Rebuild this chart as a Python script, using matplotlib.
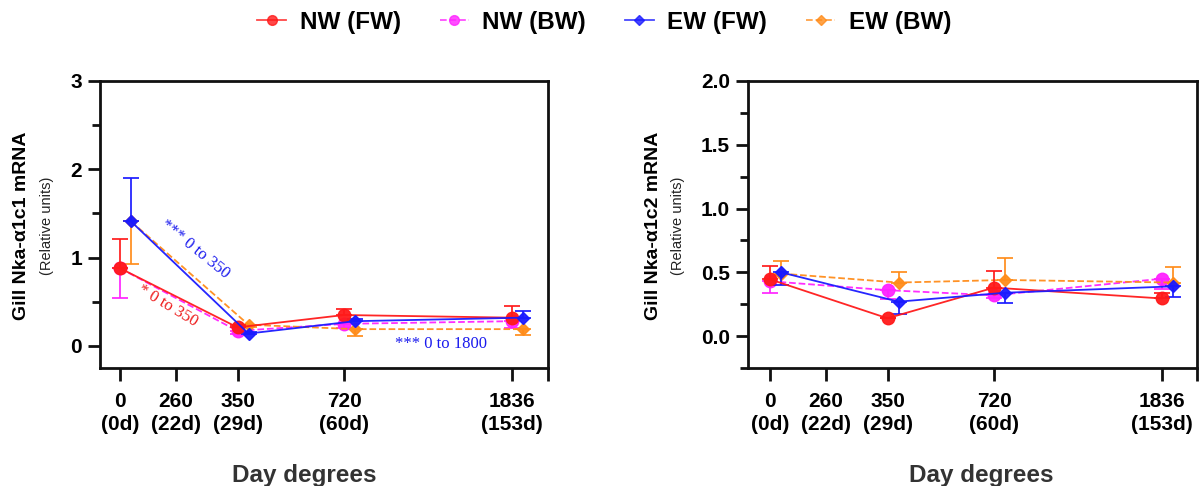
import matplotlib
matplotlib.use("Agg")
import matplotlib.pyplot as plt
from matplotlib.lines import Line2D
from matplotlib.ticker import MultipleLocator

plt.rcParams['font.family'] = ['Liberation Sans', 'DejaVu Sans']

# ---- data ----
tick_values = [0, 260, 350, 720, 1836]
tick_labels = ["0\n(0d)", "260\n(22d)", "350\n(29d)", "720\n(60d)", "1836\n(153d)"]
sample_days = [0, 350, 720, 1836]
series_names = ["NW (FW)", "NW (BW)", "EW (FW)", "EW (BW)"]

# Panel 1: Nka-a1c1
c1_nw_fw = [0.88, 0.21, 0.35, 0.32]
c1_nw_bw = [0.88, 0.17, 0.25, 0.28]
c1_ew_fw = [1.41, 0.14, 0.28, 0.32]
c1_ew_bw = [1.41, 0.24, 0.19, 0.19]
c1_nw_fw_err_hi = [0.33, 0.03, 0.07, 0.13]
c1_nw_bw_err_lo = [0.34, 0.03, 0.05, 0.08]
c1_ew_fw_err_hi = [0.49, 0.02, 0.03, 0.07]
c1_ew_bw_err_lo = [0.48, 0.03, 0.08, 0.07]

# Panel 2: Nka-a1c2
c2_nw_fw = [0.445, 0.14, 0.38, 0.295]
c2_nw_bw = [0.43, 0.36, 0.32, 0.45]
c2_ew_fw = [0.50, 0.27, 0.34, 0.39]
c2_ew_bw = [0.49, 0.42, 0.44, 0.42]
c2_nw_fw_err_hi = [0.105, 0.0, 0.13, 0.04]
c2_nw_bw_err_lo = [0.09, 0.07, 0.02, 0.08]
c2_ew_fw_err_lo = [0.10, 0.10, 0.08, 0.08]
c2_ew_bw_err_hi = [0.10, 0.08, 0.17, 0.12]

# ---- layout (axis display positions for the custom-spaced x axis) ----
axis_pos = [0, 56, 117.5, 224, 392]
pos_of = dict(zip(tick_values, axis_pos))
ew_shift = 11

col_red = '#ff1a1a'
col_mag = '#ff22ff'
col_blue = '#1a1aff'
col_orange = '#ff8c1a'

W, H = 1199, 486
fig = plt.figure(figsize=(W / 100, H / 100), dpi=100)
ax1 = fig.add_axes([100 / W, (H - 368) / H, 448 / W, 287 / H])
ax2 = fig.add_axes([748 / W, (H - 368) / H, 449 / W, 287 / H])


def draw(ax, y, err_lo, err_hi, color, marker, ms, ls, shift, z):
    xs = [pos_of[d] + shift for d in sample_days]
    ax.errorbar(xs, y, yerr=[err_lo, err_hi], color=color, marker=marker,
                markersize=ms, linestyle=ls, linewidth=1.3, elinewidth=1.3,
                capsize=6, capthick=1.3, zorder=z, alpha=0.95)


zeros = [0, 0, 0, 0]
draw(ax1, c1_nw_bw, c1_nw_bw_err_lo, zeros, col_mag, 'o', 9, '--', 0, 3)
draw(ax1, c1_nw_fw, zeros, c1_nw_fw_err_hi, col_red, 'o', 9, '-', 0, 4)
draw(ax1, c1_ew_bw, c1_ew_bw_err_lo, zeros, col_orange, 'D', 6, '--', ew_shift, 3)
draw(ax1, c1_ew_fw, zeros, c1_ew_fw_err_hi, col_blue, 'D', 6, '-', ew_shift, 4)

draw(ax2, c2_nw_bw, c2_nw_bw_err_lo, zeros, col_mag, 'o', 9, '--', 0, 3)
draw(ax2, c2_nw_fw, zeros, c2_nw_fw_err_hi, col_red, 'o', 9, '-', 0, 4)
draw(ax2, c2_ew_bw, zeros, c2_ew_bw_err_hi, col_orange, 'D', 6, '--', ew_shift, 3)
draw(ax2, c2_ew_fw, c2_ew_fw_err_lo, zeros, col_blue, 'D', 6, '-', ew_shift, 4)

for ax, xl, ylim, major, minor, fmt in [
        (ax1, (-20, 428), (-0.25, 3), 1, 0.5, '{:.0f}'),
        (ax2, (-22, 427), (-0.25, 2), 0.5, 0.25, '{:.1f}')]:
    ax.set_xlim(*xl)
    ax.set_ylim(*ylim)
    ax.set_xticks(axis_pos + [xl[1]])
    ax.set_xticklabels(tick_labels + [""], fontsize=15, fontweight='bold',
                       linespacing=1.3)
    ax.yaxis.set_major_locator(MultipleLocator(major))
    ax.yaxis.set_minor_locator(MultipleLocator(minor))
    ticks = [t for t in ax.get_yticks() if ylim[0] <= t <= ylim[1] + 1e-9 and t >= 0]
    ax.set_yticks(ticks)
    ax.set_yticklabels([fmt.format(t) for t in ticks], fontsize=15,
                       fontweight='bold')
    for sp in ax.spines.values():
        sp.set_linewidth(2)
        sp.set_color('#111111')
    ax.tick_params(axis='both', which='major', direction='out', length=9,
                   width=2, color='#111111', pad=4)
    ax.tick_params(axis='x', which='major', pad=8)
    ax.tick_params(axis='y', which='minor', direction='out', length=6,
                   width=2, color='#111111')
    ax.tick_params(axis='x', which='minor', bottom=False)
    ax.set_xlabel("Day degrees", fontsize=17.5, fontweight='bold',
                  color='#333333')

ax1.xaxis.set_label_coords(0.455, -0.335)
ax2.xaxis.set_label_coords(0.52, -0.335)

# y labels (main + sub)
fig.text(22 / W, 1 - 226 / H, "Gill Nka-α1c1 mRNA", rotation=90,
         fontsize=14, fontweight='bold', ha='center', va='center')
fig.text(47 / W, 1 - 226 / H, "(Relative units)", rotation=90,
         fontsize=10.5, ha='center', va='center', color='#222222')
fig.text(653 / W, 1 - 226 / H, "Gill Nka-α1c2 mRNA", rotation=90,
         fontsize=14, fontweight='bold', ha='center', va='center')
fig.text(678 / W, 1 - 226 / H, "(Relative units)", rotation=90,
         fontsize=10.5, ha='center', va='center', color='#222222')

# significance annotations
serif = ['Liberation Serif', 'DejaVu Serif']
fig.text(195 / W, 1 - 249 / H, "*** 0 to 350", rotation=-39, fontsize=12,
         color='#1a1aee', family=serif, ha='center', va='center')
fig.text(168 / W, 1 - 306 / H, "* 0 to 350", rotation=-31, fontsize=12,
         color='#ee1a1a', family=serif, ha='center', va='center')
fig.text(441 / W, 1 - 344 / H, "*** 0 to 1800", fontsize=12,
         color='#1a1aee', family=serif, ha='center', va='center')

# legend
handles = [
    Line2D([], [], color=col_red, marker='o', markersize=7, linestyle='-', linewidth=1.3, alpha=0.8),
    Line2D([], [], color=col_mag, marker='o', markersize=7, linestyle='--', linewidth=1.3, alpha=0.8),
    Line2D([], [], color=col_blue, marker='D', markersize=5, linestyle='-', linewidth=1.3, alpha=0.8),
    Line2D([], [], color=col_orange, marker='D', markersize=5, linestyle='--', linewidth=1.3, alpha=0.8),
]
fig.legend(handles, series_names, loc='center', bbox_to_anchor=(604 / W, 1 - 22 / H),
           ncol=4, frameon=False, handlelength=1.2, handletextpad=0.55,
           columnspacing=1.6, prop={'family': 'Liberation Sans', 'weight': 'bold', 'size': 17.5})

fig.savefig("out.png", dpi=100)
